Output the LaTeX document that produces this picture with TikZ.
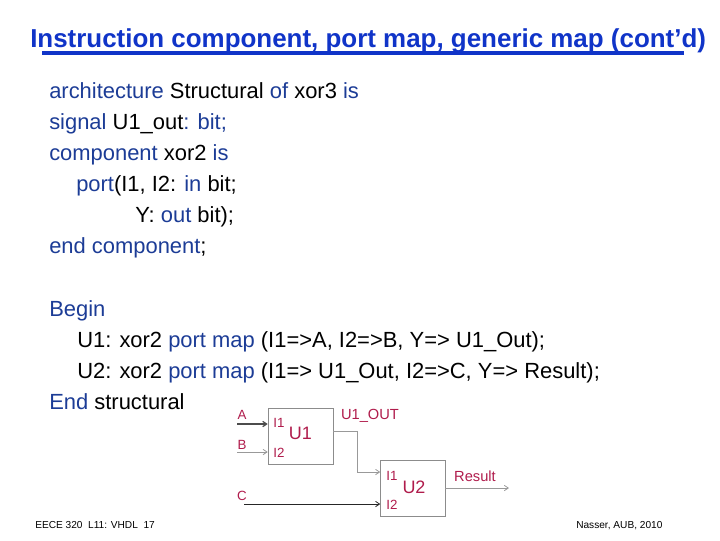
\documentclass[tikz,border=0pt]{standalone}
\usepackage{fontspec}
\setmainfont{Liberation Sans}
\usepackage{xcolor}
\usetikzlibrary{arrows.meta, positioning}
\definecolor{titleblue}{RGB}{16,52,200}
\definecolor{kwblue}{RGB}{28,60,150}
\definecolor{figred}{RGB}{176,28,76}
\newcommand{\kw}[1]{\textcolor{kwblue}{#1}}

\begin{document}
\begin{tikzpicture}[
                x=0.75pt, y=-0.75pt,
                codeline/.style={anchor=base west, inner sep=0pt, font=\fontsize{16.45}{18}\selectfont},
                footer/.style={anchor=base west, inner sep=0pt, font=\fontsize{7.6}{9}\selectfont},
                block/.style={draw=black!45, fill=white, minimum width=48.75pt, minimum height=42pt, inner sep=0pt},
                pinlabel/.style={text=figred, inner sep=0pt, font=\fontsize{10}{12}\selectfont},
                netlabel/.style={text=figred, inner sep=0pt, font=\fontsize{11}{13}\selectfont},
                blocklabel/.style={text=figred, inner sep=0pt, font=\fontsize{13.5}{16}\selectfont},
                wire/.style={black!70, line width=0.6pt, -{Straight Barb[length=3pt,width=4pt]}},
                thinwire/.style={wire, black!40},
            ]
                \useasboundingbox (0,0) rectangle (720,540);

                % Title
                \node[anchor=base west, inner sep=0pt, text=titleblue, font=\fontsize{19.45}{22}\bfseries\selectfont] (title) at (30,47) {Instruction component, port map, generic map (cont’d)};
                \coordinate (ruleL) at (42,53);
                \coordinate (ruleR) at (684,53);
                \draw[titleblue, line width=3.6pt] (ruleL) -- (ruleR);

                % Code
                \node[codeline] (arch) at (49,98) {\kw{architecture} Structural \kw{of} xor3 \kw{is}};
                \node[codeline] (sig) at (49,129) {\kw{signal} U1\_out\kw{:} \kw{bit;}};
                \node[codeline] (comp) at (49,160) {\kw{component} xor2 \kw{is}};
                \node[codeline] (port) at (76,191) {\kw{port}(I1, I2: \kw{in} bit;};
                \node[codeline] (outp) at (135,222) {Y: \kw{out} bit);};
                \node[codeline] (endc) at (49,253) {\kw{end} \kw{component};};
                \node[codeline] (begin) at (49,316) {\kw{Begin}};
                \node[codeline] (ua) at (77,347) {U1: xor2 \kw{port map} (I1=>A, I2=>B, Y=> U1\_Out);};
                \node[codeline] (ub) at (77,378) {U2: xor2 \kw{port map} (I1=> U1\_Out, I2=>C, Y=> Result);};
                \node[codeline] (endb) at (49,409) {\kw{End} structural};

                % Boxes
                \node[block] (u1) at (300.5,436) {};
                \node[block] (u2) at (413,488) {};
                \node[blocklabel] (u1name) at (300.5,433) {U1};
                \node[blocklabel] (u2name) at (414,487) {U2};

                % Pins
                \node[pinlabel] (u1i1) at (279,423) {I1};
                \node[pinlabel] (u1i2) at (279,453) {I2};
                \node[pinlabel] (u2i1) at (392,476) {I1};
                \node[pinlabel] (u2i2) at (392,505) {I2};

                % Signals
                \node[pinlabel] (la) at (242,415) {A};
                \node[pinlabel] (lb) at (242,444.5) {B};
                \node[pinlabel] (lc) at (242,495.5) {C};
                \node[netlabel] (lout) at (370,416) {U1\_OUT};
                \node[netlabel] (lres) at (475,476) {Result};

                % Wires
                \coordinate (ain) at (237,424);
                \coordinate (bin) at (237,452);
                \coordinate (cin) at (244,504);
                \coordinate (uout) at (333,431);
                \coordinate (ubend) at (357,472);
                \coordinate (rout) at (445,488);
                \coordinate (rend) at (509,488);
                \draw[wire, line width=0.9pt] (ain) -- (u1.west |- ain);
                \draw[thinwire] (bin) -- (u1.west |- bin);
                \draw[wire, black!85] (cin) -- (u2.west |- cin);
                \draw[thinwire] (uout) -| (ubend) -- (u2.west |- ubend);
                \draw[thinwire] (rout) -- (rend);

                % Footer
                \node[footer] (fl) at (35,528) {EECE 320\ \ L11: VHDL\ \ 17};
                \node[footer] (fr) at (576,528) {Nasser, AUB, 2010};
            \end{tikzpicture}
\end{document}
